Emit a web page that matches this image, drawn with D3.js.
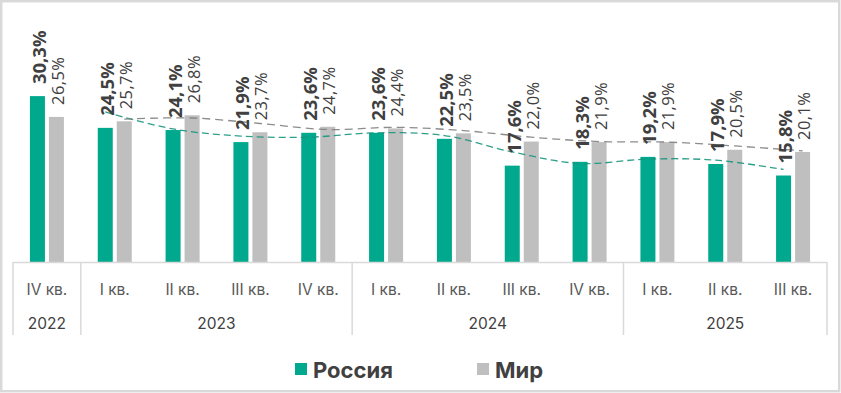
<!DOCTYPE html>
<html>
<head>
<meta charset="utf-8">
<script src="https://cdn.jsdelivr.net/npm/d3@7"></script>
<style>
  body { margin: 0; background: #fff; }
  svg { display: block; }
</style>
</head>
<body>
<svg id="chart" width="841" height="393"></svg>
<script>
// quarters and years for the two-level category axis
const quarters = ['IV кв.', 'I кв.', 'II кв.', 'III кв.', 'IV кв.', 'I кв.', 'II кв.', 'III кв.', 'IV кв.', 'I кв.', 'II кв.', 'III кв.'];
const years = [
  { label: '2022', from: 0, to: 0 },
  { label: '2023', from: 1, to: 4 },
  { label: '2024', from: 5, to: 8 },
  { label: '2025', from: 9, to: 11 }
];

const russia = [30.3, 24.5, 24.1, 21.9, 23.6, 23.6, 22.5, 17.6, 18.3, 19.2, 17.9, 15.8];
const world = [26.5, 25.7, 26.8, 23.7, 24.7, 24.4, 23.5, 22.0, 21.9, 21.9, 20.5, 20.1];

// dashed trend lines (start at the second quarter)
const russiaTrend = [27.4, 24.3, 23.0, 22.8, 23.6, 23.1, 20.1, 18.0, 18.8, 18.6, 16.9];
const worldTrend = [26.1, 26.3, 25.3, 24.2, 24.6, 24.0, 22.8, 22.0, 21.9, 21.2, 20.3];

const series = [
  { name: 'Россия', values: russia, color: '#00a88e' },
  { name: 'Мир', values: world, color: '#bfbfbf' }
];

const svg = d3.select('#chart');

const x = d3.scaleBand()
  .domain(d3.range(quarters.length))
  .range([13, 827]);

const y = d3.scaleLinear()
  .domain([0, 40])
  .range([262, 43]);

const barW = 15;
const offsets = [-17, 2];

// outer frame
svg.append('rect')
  .attr('x', 1.2).attr('y', 1.2)
  .attr('width', 838).attr('height', 390)
  .attr('fill', 'none')
  .attr('stroke', '#d9d9d9')
  .attr('stroke-width', 2.5);

// bars
series.forEach((s, si) => {
  svg.append('g')
    .selectAll('rect')
    .data(s.values)
    .enter()
    .append('rect')
    .attr('x', (d, i) => x(i) + x.bandwidth() / 2 + offsets[si])
    .attr('y', d => y(d))
    .attr('width', barW)
    .attr('height', d => y(0) - y(d))
    .attr('fill', s.color);
});

// trend lines
const line = d3.line()
  .curve(d3.curveCatmullRom.alpha(0.5));

const trends = [
  { values: russiaTrend, off: offsets[0], color: '#17957c', dash: '7,4' },
  { values: worldTrend, off: offsets[1], color: '#808080', dash: '8,5' }
];

trends.forEach(t => {
  const pts = t.values.map((v, i) => [x(i + 1) + x.bandwidth() / 2 + t.off + barW / 2, y(v)]);
  svg.append('path')
    .attr('d', line(pts))
    .attr('fill', 'none')
    .attr('stroke', t.color)
    .attr('stroke-opacity', 0.9)
    .attr('stroke-width', 1.3)
    .attr('stroke-dasharray', t.dash);
});

// data labels, rotated
const labelStyles = [
  { weight: 700, size: '18.5px', spacing: '0px' },
  { weight: 400, size: '16.5px', spacing: '0.4px' }
];

series.forEach((s, si) => {
  svg.append('g')
    .selectAll('text')
    .data(s.values)
    .enter()
    .append('text')
    .attr('transform', (d, i) => {
      const cx = x(i) + x.bandwidth() / 2 + offsets[si] + barW / 2 + 1;
      return `translate(${cx}, ${y(d) - 12}) rotate(-90)`;
    })
    .attr('dominant-baseline', 'central')
    .style('font-family', '"Open Sans", sans-serif')
    .style('font-weight', labelStyles[si].weight)
    .style('font-size', labelStyles[si].size)
    .style('letter-spacing', labelStyles[si].spacing)
    .style('fill', '#404040')
    .text(d => d.toFixed(1).replace('.', ',') + '%');
});

// category axis
const axis = svg.append('g')
  .attr('stroke', '#d9d9d9')
  .attr('stroke-width', 1.5);

axis.append('line')
  .attr('x1', x.range()[0]).attr('x2', x.range()[1])
  .attr('y1', 262.5).attr('y2', 262.5);

const seps = [0].concat(years.map(yr => yr.to + 1));
axis.selectAll('.sep')
  .data(seps)
  .enter()
  .append('line')
  .attr('class', 'sep')
  .attr('x1', d => d < quarters.length ? x(d) : x.range()[1])
  .attr('x2', d => d < quarters.length ? x(d) : x.range()[1])
  .attr('y1', 262)
  .attr('y2', 335);

svg.append('g')
  .selectAll('text')
  .data(quarters)
  .enter()
  .append('text')
  .attr('x', (d, i) => x(i) + x.bandwidth() / 2)
  .attr('y', 289)
  .attr('text-anchor', 'middle')
  .attr('dominant-baseline', 'central')
  .style('font-family', 'Inter, sans-serif')
  .style('font-size', '15.5px')
  .style('fill', '#595959')
  .text(d => d);

svg.append('g')
  .selectAll('text')
  .data(years)
  .enter()
  .append('text')
  .attr('x', d => (x(d.from) + x(d.to) + x.bandwidth()) / 2)
  .attr('y', 323)
  .attr('text-anchor', 'middle')
  .attr('dominant-baseline', 'central')
  .style('font-family', 'Inter, sans-serif')
  .style('font-size', '15.5px')
  .style('fill', '#404040')
  .text(d => d.label);

// legend
const legendX = [295, 477];
const legend = svg.append('g')
  .selectAll('g')
  .data(series)
  .enter()
  .append('g')
  .attr('transform', (d, i) => `translate(${legendX[i]}, 363)`);

legend.append('rect')
  .attr('width', 12)
  .attr('height', 12)
  .attr('fill', d => d.color);

legend.append('text')
  .attr('x', 18)
  .attr('y', 6.5)
  .attr('dominant-baseline', 'central')
  .style('font-family', 'Inter, sans-serif')
  .style('font-weight', 700)
  .style('font-size', '22px')
  .style('fill', '#404040')
  .text(d => d.name);
</script>
</body>
</html>
